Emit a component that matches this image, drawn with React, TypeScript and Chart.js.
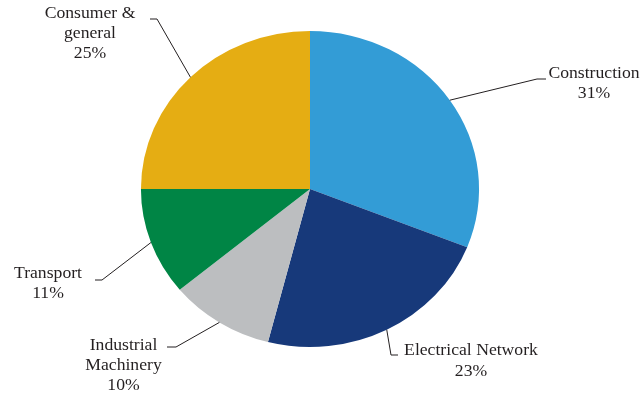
import React, { useEffect, useRef } from "react";
import { Chart, registerables } from "chart.js";

Chart.register(...registerables);

// ---- data ----
const categories = ["Construction", "Electrical Network", "Industrial Machinery", "Transport", "Consumer & general"];
const shares = [31, 23, 10, 11, 25];
const labelLines = [["Construction"], ["Electrical Network"], ["Industrial", "Machinery"], ["Transport"], ["Consumer &", "general"]];
const sliceColors = ["#339CD6", "#17397A", "#BCBEC0", "#008545", "#E5AD13"];

// ---- layout of callout labels (page pixels) ----
const labelLayout = [
  { elbow: [537, 79], end: [546, 79], textX: 594, textY: [73.5, 93.5] },
  { elbow: [391, 355], end: [398, 355], textX: 471, textY: [350.5, 371.5] },
  { elbow: [176, 347], end: [167, 347], textX: 123.5, textY: [346, 366, 386] },
  { elbow: [102, 280], end: [95, 280], textX: 48, textY: [274, 294] },
  { elbow: [157, 19], end: [150, 19], textX: 90, textY: [14, 34, 54] },
];

const HSTRETCH = 1.07;
const TEXT_COLOR = "#231F20";
const FONT = "16.5px 'Liberation Serif', 'Times New Roman', serif";

const stretchPlugin = {
  id: "stretch",
  beforeDatasetsDraw(chart: any) {
    const meta = chart.getDatasetMeta(0);
    const arc = meta.data[0];
    const ctx = chart.ctx;
    ctx.save();
    ctx.translate(arc.x, arc.y);
    ctx.scale(HSTRETCH, 1);
    ctx.translate(-arc.x, -arc.y);
  },
  afterDatasetsDraw(chart: any) {
    chart.ctx.restore();
  },
};

const calloutPlugin = {
  id: "callouts",
  afterDraw(chart: any) {
    const ctx = chart.ctx;
    const meta = chart.getDatasetMeta(0);
    meta.data.forEach((arc: any, i: number) => {
      const lay = labelLayout[i];
      const mid = (arc.startAngle + arc.endAngle) / 2;
      const sx = arc.x + Math.cos(mid) * arc.outerRadius * HSTRETCH;
      const sy = arc.y + Math.sin(mid) * arc.outerRadius;
      ctx.save();
      ctx.strokeStyle = TEXT_COLOR;
      ctx.lineWidth = 1;
      ctx.beginPath();
      ctx.moveTo(sx, sy);
      ctx.lineTo(lay.elbow[0], lay.elbow[1]);
      ctx.lineTo(lay.end[0], lay.end[1]);
      ctx.stroke();
      const lines = [...labelLines[i], `${shares[i]}%`];
      ctx.fillStyle = TEXT_COLOR;
      ctx.font = FONT;
      ctx.textAlign = "center";
      ctx.textBaseline = "middle";
      lines.forEach((t, j) => {
        ctx.save();
        ctx.translate(lay.textX, lay.textY[j]);
        ctx.scale(HSTRETCH, 1);
        ctx.fillText(t, 0, 0);
        ctx.restore();
      });
      ctx.restore();
    });
  },
};

export default function App() {
  const ref = useRef<HTMLCanvasElement | null>(null);
  useEffect(() => {
    if (!ref.current) return;
    const chart = new Chart(ref.current, {
      type: "pie",
      data: {
        labels: categories,
        datasets: [
          {
            data: shares,
            backgroundColor: sliceColors,
            borderWidth: 0,
          },
        ],
      },
      options: {
        responsive: false,
        animation: false,
        layout: { padding: { top: 31, bottom: 48, left: 110, right: 133 } },
        plugins: {
          legend: { display: false },
          tooltip: { enabled: false },
        },
      },
      plugins: [stretchPlugin, calloutPlugin],
    });
    return () => chart.destroy();
  }, []);
  return (
    <div style={{ position: "fixed", left: 0, top: 0, width: 643, height: 395, background: "#fff" }}>
      <canvas ref={ref} width={643} height={395} style={{ display: "block" }} />
    </div>
  );
}
